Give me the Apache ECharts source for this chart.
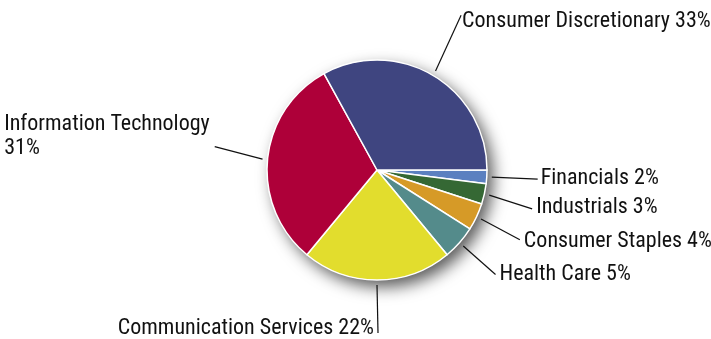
<!DOCTYPE html>
<html>
<head>
<meta charset="utf-8">
<script src="https://cdn.jsdelivr.net/npm/echarts@6/dist/echarts.min.js"></script>
<style>
  html, body { margin: 0; padding: 0; background: #fff; }
  #chart { width: 711px; height: 339px; }
</style>
</head>
<body>
<div id="chart"></div>
<script>
// Sector weights of the portfolio, listed clockwise from 3 o'clock
const sectors = ['Financials', 'Industrials', 'Consumer Staples', 'Health Care',
                 'Communication Services', 'Information Technology', 'Consumer Discretionary'];
const weights = [2, 3, 4, 5, 22, 31, 33];
const palette = ['#5b80c0', '#356834', '#d69a27', '#548b8b', '#e2dd2d', '#ae0039', '#3f4580'];

// Geometry and type
const CENTER = [377, 170];
const RADIUS = 110;
const LABEL_RING = 115;          // leader lines start a little outside the rim
const FONT = '"Roboto Condensed", "Liberation Sans Narrow", "DejaVu Sans Condensed", sans-serif';
const FONT_SIZE = 22;

// Leader-line lengths, nudges of the line tip (end) and of the text (dx, dy)
const labelStyle = {
  'Financials':             { len: 46, end: [0, -1], dx: -1, dy: -1 },
  'Industrials':            { len: 45, end: [-1, 4], dy: -1 },
  'Consumer Staples':       { len: 44, end: [-1, 2], dy: 2 },
  'Health Care':            { len: 43, end: [0, 0] },
  'Communication Services': { len: 48, end: [1, 0], align: 'right', dy: -5 },
  'Information Technology': { len: 48, end: [0, -8], wrap: true, dx: -1, dy: -10 },
  'Consumer Discretionary': { len: 60, end: [-5, -4], dx: -3, dy: 6 }
};

const chart = echarts.init(document.getElementById('chart'), null, { renderer: 'canvas' });

const sectorData = sectors.map((name, i) => ({
  name: name,
  value: weights[i],
  itemStyle: { color: palette[i] }
}));

const labelData = sectors.map((name, i) => ({
  name: name,
  value: weights[i],
  labelLine: { length: labelStyle[name].len, length2: 0 }
}));

const option = {
  animation: false,
  backgroundColor: '#fff',
  series: [
    // soft drop shadow under the disc
    {
      type: 'pie',
      center: CENTER,
      radius: RADIUS,
      silent: true,
      z: 1,
      label: { show: false },
      labelLine: { show: false },
      emphasis: { disabled: true },
      itemStyle: {
        color: '#ffffff',
        shadowBlur: 16,
        shadowColor: 'rgba(0,0,0,0.65)',
        shadowOffsetX: 6,
        shadowOffsetY: 7
      },
      data: [{ value: 1, name: '' }]
    },
    // the sectors
    {
      type: 'pie',
      center: CENTER,
      radius: RADIUS,
      startAngle: 0,
      clockwise: true,
      silent: true,
      z: 2,
      label: { show: false },
      labelLine: { show: false },
      emphasis: { disabled: true },
      itemStyle: { borderColor: '#ffffff', borderWidth: 1.5 },
      data: sectorData
    },
    // labels and leader lines
    {
      type: 'pie',
      center: CENTER,
      radius: LABEL_RING,
      startAngle: 0,
      clockwise: true,
      silent: true,
      z: 3,
      avoidLabelOverlap: false,
      emphasis: { disabled: true },
      itemStyle: { color: 'rgba(0,0,0,0)', borderWidth: 0 },
      label: {
        show: true,
        position: 'outside',
        distanceToLabelLine: 4,
        color: '#111',
        fontFamily: FONT,
        fontSize: FONT_SIZE,
        lineHeight: 24,
        formatter: function (p) {
          if (labelStyle[p.name].wrap) {
            return '{t|' + p.name + '}\n{t|' + p.value + '%}';
          }
          return p.name + ' ' + p.value + '%';
        },
        rich: {
          t: { align: 'left', fontFamily: FONT, fontSize: FONT_SIZE, lineHeight: 23.5, color: '#111' }
        }
      },
      labelLine: {
        show: true,
        smooth: false,
        lineStyle: { color: '#111', width: 1.2 }
      },
      labelLayout: function (p) {
        const pts = p.labelLinePoints;
        if (!pts) return {};
        const s = labelStyle[sectors[p.dataIndex]] || {};
        const off = s.end || [0, 0];
        const line = pts.map((pt, k) => k === 0 ? pt.slice() : [pt[0] + off[0], pt[1] + off[1]]);
        const end = line[line.length - 1];
        const align = s.align || p.align;
        const gap = 4;
        return {
          x: end[0] + (align === 'right' ? -gap : gap) + (s.dx || 0),
          y: end[1] + (s.dy || 0),
          align: align,
          verticalAlign: 'middle',
          labelLinePoints: line
        };
      },
      data: labelData
    }
  ]
};

chart.setOption(option);
</script>
</body>
</html>
